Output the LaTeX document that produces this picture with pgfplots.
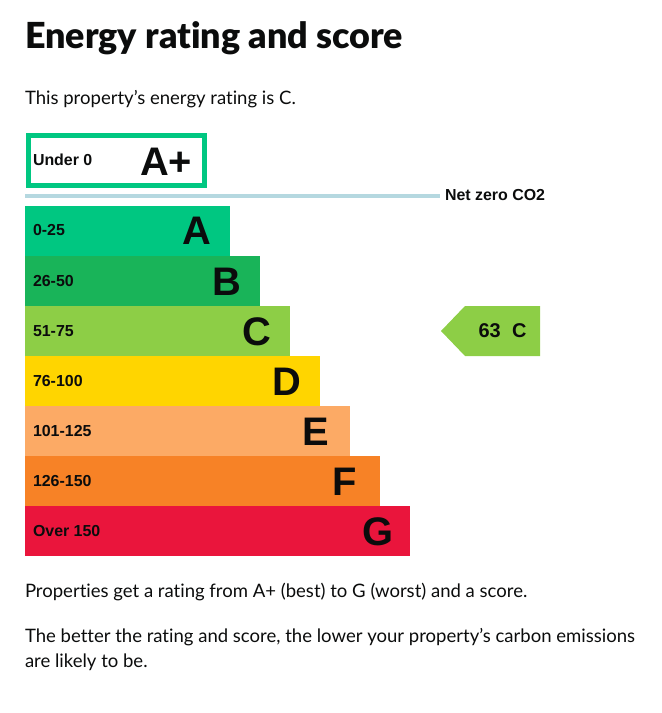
\documentclass[border=0pt]{standalone}
\usepackage{pgfplots}
\pgfplotsset{compat=1.18}
\usepackage{fontspec}
\setmainfont{Lato}[Ligatures=NoCommon,BoldFont={Lato Black}]
\newfontfamily\arial{Liberation Sans}[BoldFont={Liberation Sans Bold}]
\definecolor{txt}{HTML}{0B0C0C}
\definecolor{ra}{HTML}{00C781}
\definecolor{rb}{HTML}{19B459}
\definecolor{rc}{HTML}{8DCE46}
\definecolor{rd}{HTML}{FFD500}
\definecolor{re}{HTML}{FCAA65}
\definecolor{rf}{HTML}{F78226}
\definecolor{rg}{HTML}{EA153C}
\definecolor{rline}{HTML}{B5D8E0}
\newcommand{\labfont}{\arial\bfseries\fontsize{16}{18}\selectfont}
\newcommand{\letfont}{\arial\bfseries\fontsize{40}{44}\selectfont}
\newcommand{\bodyfont}{\fontsize{18.6}{22}\selectfont}
\tikzset{t/.style={text=txt, inner sep=0pt, outer sep=0pt, anchor=base west}}
\begin{document}
\begin{tikzpicture}
\begin{axis}[
  name=a,
  scale only axis, width=662bp, height=713bp,
  xmin=-25, xmax=637, ymin=0, ymax=713, y dir=reverse,
  hide axis, clip=false,
  bar shift=0pt, bar width=50bp,
]
\addplot[xbar, fill=ra, draw=none] coordinates {(205,231)};
\addplot[xbar, fill=rb, draw=none] coordinates {(235,281)};
\addplot[xbar, fill=rc, draw=none] coordinates {(265,331)};
\addplot[xbar, fill=rd, draw=none] coordinates {(295,381)};
\addplot[xbar, fill=re, draw=none] coordinates {(325,431)};
\addplot[xbar, fill=rf, draw=none] coordinates {(355,481)};
\addplot[xbar, fill=rg, draw=none] coordinates {(385,531)};
% A+ outlined box
\addplot[no marks, draw=ra, line width=5bp, line join=miter, fill=white] coordinates {(3.5,136) (179,136) (179,186) (3.5,186)} -- cycle;
% Net zero line
\addplot[no marks, draw=rline, line width=4bp] coordinates {(0,196) (415,196)};
% current-rating arrow
\addplot[no marks, draw=none, fill=rc] coordinates {(416,331) (440,306) (515,306) (515,356) (440,356) (416,331)};

\node[t,font=\fontsize{36}{40}\selectfont\bfseries] at (axis cs:0,49) {Energy rating and score};
\node[t,font=\bodyfont] at (axis cs:0,105) {This property’s energy rating is C.};
\node[t,font=\bodyfont] at (axis cs:0,597) {Properties get a rating from A+ (best) to G (worst) and a score.};
\node[t,font=\bodyfont] at (axis cs:0,642) {The better the rating and score, the lower your property’s carbon emissions};
\node[t,font=\bodyfont] at (axis cs:0,667) {are likely to be.};

\node[t,font=\labfont] at (axis cs:8,166) {Under 0};
\node[t,font=\labfont] at (axis cs:8,236) {0-25};
\node[t,font=\labfont] at (axis cs:8,286) {26-50};
\node[t,font=\labfont] at (axis cs:8,336) {51-75};
\node[t,font=\labfont] at (axis cs:8,386) {76-100};
\node[t,font=\labfont] at (axis cs:8,436) {101-125};
\node[t,font=\labfont] at (axis cs:8,486) {126-150};
\node[t,font=\labfont] at (axis cs:8,536) {Over 150};

\node[t,font=\letfont] at (axis cs:115,176) {A+};
\node[t,font=\letfont] at (axis cs:157,245) {A};
\node[t,font=\letfont] at (axis cs:187,295) {B};
\node[t,font=\letfont] at (axis cs:217,345) {C};
\node[t,font=\letfont] at (axis cs:247,395) {D};
\node[t,font=\letfont] at (axis cs:277,445) {E};
\node[t,font=\letfont] at (axis cs:307,495) {F};
\node[t,font=\letfont] at (axis cs:337,545) {G};

\node[t,font=\arial\bfseries\fontsize{16}{18}\selectfont] at (axis cs:420,201) {Net zero CO2};
\node[t,font=\arial\bfseries\fontsize{20}{22}\selectfont] at (axis cs:453.5,337) {63};
\node[t,font=\arial\bfseries\fontsize{20}{22}\selectfont] at (axis cs:487,337) {C};
\end{axis}
\path (a.south west) rectangle (a.north east);
\end{tikzpicture}
\end{document}
